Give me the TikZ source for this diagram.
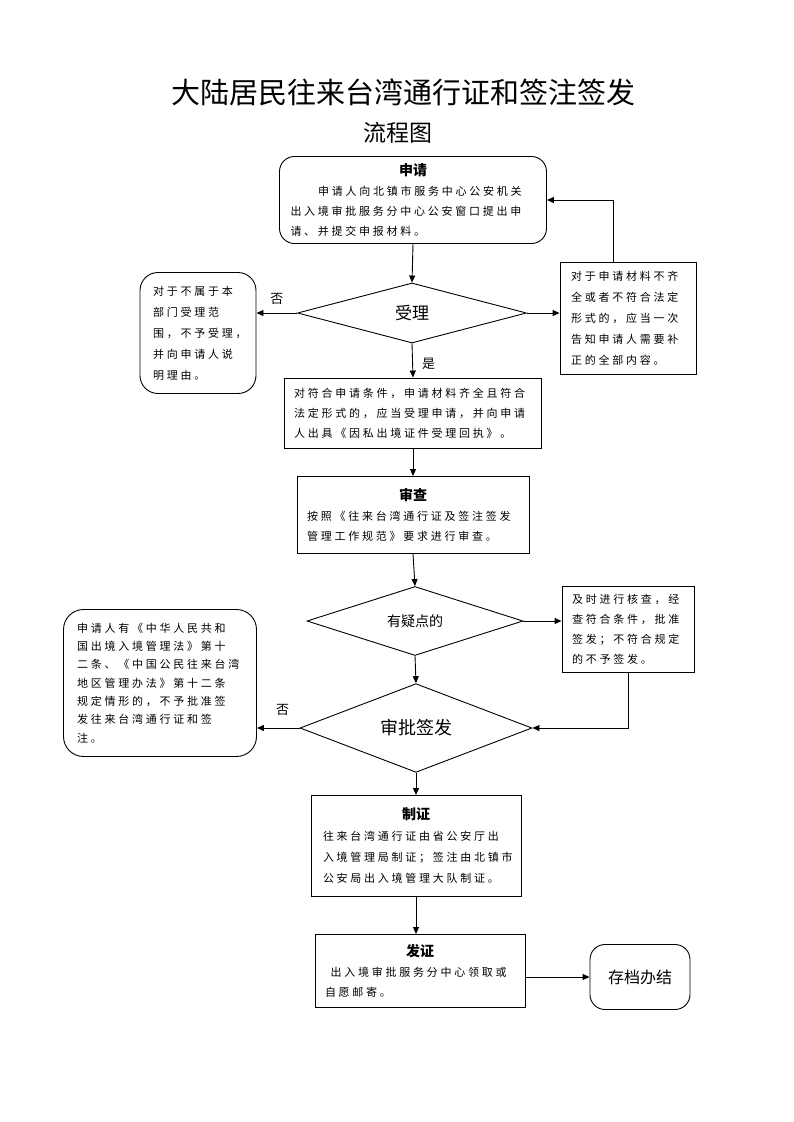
\documentclass[tikz,border=0pt]{standalone}
\usepackage{fontspec}
\setmainfont{Noto Sans CJK SC}
\newfontfamily\spacedcjk{Noto Sans CJK SC}[LetterSpace=25]
\newcommand\boxhead[1]{\makebox[\linewidth][c]{\fontsize{14}{18}\selectfont\bfseries #1}}
\usetikzlibrary{arrows.meta,positioning,shapes.geometric}

\begin{document}
\begin{tikzpicture}[
		x=1pt, y=-1pt,
		every node/.style={font=\fontsize{11}{20}\selectfont},
		box/.style={draw, line width=0.9pt, inner sep=0pt, align=left},
		roundbox/.style={box, rounded corners=15pt},
		decision/.style={draw, line width=0.9pt, diamond, aspect=1, inner sep=0pt},
		tag/.style={font=\fontsize{13}{13}\selectfont, inner sep=1pt},
		flow/.style={-{Triangle[length=7pt,width=6pt]}, line width=0.9pt},
	]
		\useasboundingbox (0,0) rectangle (793,1122);
		
		\node (title) at (403,92) {\fontsize{29}{29}\selectfont 大陆居民往来台湾通行证和签注签发};
		\node (subtitle) at (398,133) {\fontsize{23}{23}\selectfont 流程图};
		
		\node (shenqing) [roundbox, minimum width=267pt, minimum height=87pt, text width=245pt] at (413,200)
			{\boxhead{申请}\\\spacedcjk\hspace*{2.5em}申请人向北镇市服务中心公安机关\\出入境审批服务分中心公安窗口提出申\\请、并提交申报材料。};
		\node (shouli) [decision, minimum width=229pt, minimum height=60pt] at (412,313) {\fontsize{17}{17}\selectfont 受理};
		\node (bushu) [roundbox, rounded corners=18pt, minimum width=116pt, minimum height=121pt, text width=90pt, font=\fontsize{11}{21}\selectfont] at (198,333)
			{\spacedcjk 对于不属于本\\部门受理范\\围，不予受理，\\并向申请人说\\明理由。};
		\node (buqi) [box, minimum width=136pt, minimum height=112pt, text width=114pt, font=\fontsize{11}{21}\selectfont] at (628,318)
			{\spacedcjk 对于申请材料不齐\\全或者不符合法定\\形式的，应当一次\\告知申请人需要补\\正的全部内容。};
		\node (fuhe) [box, minimum width=257pt, minimum height=70pt, text width=238pt] at (413,413)
			{\spacedcjk 对符合申请条件，申请材料齐全且符合\\法定形式的，应当受理申请，并向申请\\人出具《因私出境证件受理回执》。};
		\node (shencha) [box, minimum width=232pt, minimum height=77pt, text width=212pt] at (413,515)
			{\boxhead{审查}\\\spacedcjk 按照《往来台湾通行证及签注签发\\管理工作规范》要求进行审查。};
		\node (yidian) [decision, minimum width=216pt, minimum height=62pt] at (415,621) {\fontsize{14}{14}\selectfont 有疑点的};
		\node (hecha) [box, minimum width=132pt, minimum height=86pt, text width=112pt] at (628,629)
			{\spacedcjk 及时进行核查，经\\查符合条件，批准\\签发；不符合规定\\的不予签发。};
		\node (shenpi) [decision, minimum width=232pt, minimum height=73pt] at (416,728) {\fontsize{18}{18}\selectfont 审批签发};
		\node (bupi) [roundbox, rounded corners=20pt, minimum width=193pt, minimum height=147pt, text width=166pt, font=\fontsize{11}{18.3}\selectfont] at (160,683)
			{\spacedcjk 申请人有《中华人民共和\\国出境入境管理法》第十\\二条、《中国公民往来台湾\\地区管理办法》第十二条\\规定情形的，不予批准签\\发往来台湾通行证和签\\注。};
		\node (zhizheng) [box, minimum width=210pt, minimum height=101pt, text width=186pt, font=\fontsize{11}{21}\selectfont] at (416,846)
			{\boxhead{制证}\\\spacedcjk 往来台湾通行证由省公安厅出\\入境管理局制证；签注由北镇市\\公安局出入境管理大队制证。};
		\node (fazheng) [box, minimum width=210pt, minimum height=73pt, text width=190pt] at (420,971)
			{\boxhead{发证}\\\spacedcjk\hspace*{0.5em}出入境审批服务分中心领取或\\自愿邮寄。};
		\node (cundang) [roundbox, minimum width=100pt, minimum height=65pt] at (640,977) {\fontsize{16}{16}\selectfont 存档办结};
		
		% main column
		\draw[flow] (shenqing.south) -- (shouli.north);
		\draw[flow] (shouli.south) -- (fuhe.north) node[tag, pos=0.6, right=8pt]{是};
		\draw[flow] (fuhe.south) -- (shencha.north);
		\draw[flow] (shencha.south) -- (yidian.north);
		\draw[flow] (yidian.south) -- (shenpi.north);
		\draw[flow] (shenpi.south) -- (zhizheng.north);
		\draw[flow] (zhizheng.south) -- (zhizheng.south|-fazheng.north);
		\draw[flow] (fazheng.east|-cundang.west) -- (cundang.west);
		
		% side branches
		\draw[flow] (shouli.west) -- (shouli.west-|bushu.east) node[tag, midway, above=7pt]{否};
		\draw[flow] (shouli.east) -- (shouli.east-|buqi.west);
		\draw[flow] ([xshift=-15pt]buqi.north) |- (shenqing.east);
		\draw[flow] (yidian.east) -- (yidian.east-|hecha.west);
		\draw[flow] (hecha.south) |- (shenpi.east);
		\draw[flow] (shenpi.west) -- (shenpi.west-|bupi.east) node[tag, pos=0.4, above=11pt]{否};
	\end{tikzpicture}
\end{document}
